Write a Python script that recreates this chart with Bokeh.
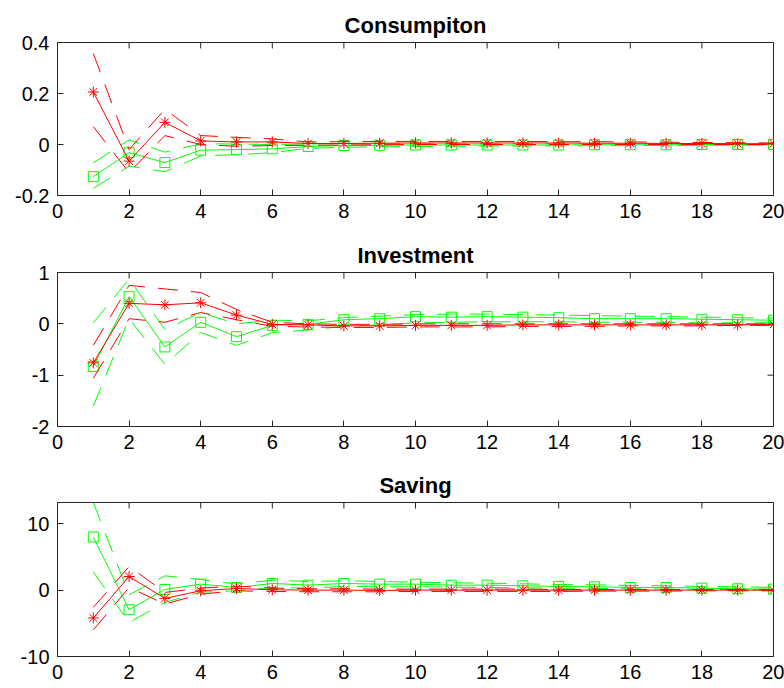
import math

from bokeh.plotting import figure
from bokeh.layouts import column
from bokeh.models import Range1d, LinearAxis, FixedTicker, Title
from bokeh.embed import file_html
from bokeh.resources import INLINE

# forecast horizon
horizon = list(range(1, 21))
x_ticks = list(range(0, 21, 2))

# Consumption responses (red: model A, green: model B) with bands
cons_red = [0.206, -0.065, 0.087, 0.014, 0.010, 0.010, 0.004, 0.004, 0.005, 0.006,
            0.006, 0.006, 0.006, 0.006, 0.005, 0.005, 0.004, 0.004, 0.003, 0.003]
cons_red_hi = [0.357, -0.020, 0.138, 0.035, 0.028, 0.022, 0.010, 0.011, 0.012, 0.012,
               0.012, 0.012, 0.012, 0.011, 0.011, 0.010, 0.009, 0.008, 0.007, 0.006]
cons_red_lo = [0.070, -0.110, 0.035, 0.000, -0.007, -0.004, -0.003, -0.002, -0.001, 0.000,
               0.000, 0.000, 0.000, 0.000, 0.000, 0.000, 0.000, 0.000, 0.000, 0.000]
cons_grn = [-0.126, -0.032, -0.071, -0.022, -0.020, -0.017, -0.008, -0.004, -0.003, -0.002,
            -0.002, -0.002, -0.002, -0.002, -0.001, -0.001, -0.001, 0.000, 0.000, 0.000]
cons_grn_hi = [-0.072, 0.018, -0.030, 0.003, 0.002, 0.000, 0.002, 0.003, 0.003, 0.003,
               0.003, 0.003, 0.003, 0.003, 0.003, 0.002, 0.002, 0.002, 0.002, 0.002]
cons_grn_lo = [-0.172, -0.085, -0.107, -0.045, -0.040, -0.032, -0.015, -0.011, -0.009, -0.008,
               -0.007, -0.006, -0.006, -0.005, -0.005, -0.004, -0.004, -0.003, -0.003, -0.002]

# Investment responses
inv_red = [-0.76, 0.40, 0.37, 0.41, 0.17, -0.01, -0.02, -0.04, -0.04, -0.03,
           -0.03, -0.03, -0.02, -0.02, -0.02, -0.02, -0.02, -0.02, -0.02, -0.01]
inv_red_hi = [-0.42, 0.75, 0.68, 0.61, 0.28, 0.03, 0.00, -0.01, -0.01, 0.00,
              0.00, 0.00, 0.00, 0.00, 0.00, 0.00, 0.00, 0.00, 0.00, 0.00]
inv_red_lo = [-1.06, 0.10, 0.03, 0.22, 0.08, -0.05, -0.06, -0.07, -0.07, -0.06,
              -0.06, -0.06, -0.05, -0.05, -0.05, -0.04, -0.04, -0.04, -0.03, -0.03]
inv_grn = [-0.83, 0.53, -0.45, 0.03, -0.25, -0.03, -0.01, 0.08, 0.10, 0.14,
           0.13, 0.14, 0.13, 0.12, 0.10, 0.10, 0.10, 0.09, 0.08, 0.07]
inv_grn_hi = [0.02, 0.87, -0.11, 0.22, 0.00, 0.07, 0.06, 0.12, 0.15, 0.18,
              0.19, 0.19, 0.18, 0.17, 0.16, 0.15, 0.14, 0.13, 0.12, 0.11]
inv_grn_lo = [-1.60, 0.10, -0.79, -0.17, -0.42, -0.17, -0.12, -0.05, -0.02, 0.02,
              0.03, 0.04, 0.04, 0.04, 0.03, 0.03, 0.03, 0.02, 0.02, 0.02]

# Saving responses
sav_red = [-4.2, 2.05, -1.25, -0.1, 0.25, 0.05, 0.0, 0.0, -0.05, 0.0,
           0.0, 0.0, 0.0, 0.0, 0.0, 0.0, 0.0, 0.0, 0.0, 0.0]
sav_red_hi = [-2.6, 3.55, -0.35, 0.3, 0.6, 0.3, 0.2, 0.2, 0.15, 0.15,
              0.15, 0.15, 0.15, 0.1, 0.1, 0.1, 0.1, 0.1, 0.1, 0.1]
sav_red_lo = [-6.0, 0.4, -2.1, -0.6, -0.1, -0.2, -0.25, -0.25, -0.25, -0.2,
              -0.2, -0.2, -0.2, -0.2, -0.15, -0.15, -0.15, -0.1, -0.1, -0.1]
sav_grn = [8.0, -2.95, 0.1, 0.9, 0.4, 1.0, 0.75, 1.0, 0.9, 0.9,
           0.75, 0.75, 0.65, 0.55, 0.5, 0.4, 0.4, 0.3, 0.2, 0.15]
sav_grn_hi = [13.2, -0.7, 2.15, 1.6, 0.9, 1.5, 1.3, 1.4, 1.3, 1.2,
              1.1, 1.05, 0.95, 0.85, 0.8, 0.7, 0.65, 0.55, 0.5, 0.4]
sav_grn_lo = [2.75, -4.9, -1.85, -0.3, -0.1, 0.4, 0.3, 0.55, 0.5, 0.5,
              0.45, 0.4, 0.35, 0.3, 0.25, 0.2, 0.15, 0.1, 0.05, 0.0]

cons_ticks = [-0.2, 0.0, 0.2, 0.4]
cons_labels = ["-0.2", "0", "0.2", "0.4"]
inv_ticks = [-2, -1, 0, 1]
inv_labels = ["-2", "-1", "0", "1"]
sav_ticks = [-10, 0, 10]
sav_labels = ["-10", "0", "10"]

RED = "#ff0000"
GREEN = "#00ff00"
INK = "#262626"
FONT = "Liberation Sans"
DASH = "20 13"
TICK_LEN = 6


def style_axis(ax, ticks, labels=None):
    ax.ticker = FixedTicker(ticks=ticks)
    if labels is not None:
        ax.major_label_overrides = {t: l for t, l in zip(ticks, labels)}
    ax.major_tick_in = TICK_LEN
    ax.major_tick_out = 0
    ax.minor_tick_line_color = None
    ax.axis_line_color = INK
    ax.major_tick_line_color = INK
    ax.major_label_text_color = "black"
    ax.major_label_text_font = FONT
    ax.major_label_text_font_size = "20px"
    ax.major_label_standoff = 8


def panel(title, y0, y1, yticks, ylabels, red, red_lo, red_hi, grn, grn_lo, grn_hi,
          height, bottom):
    p = figure(width=784, height=height, x_range=Range1d(0, 20), y_range=Range1d(y0, y1),
               output_backend="svg", toolbar_location=None,
               min_border_left=57, min_border_right=11, min_border_top=42,
               min_border_bottom=bottom, x_axis_type=None, y_axis_type=None)
    p.grid.visible = False
    p.outline_line_color = INK
    p.background_fill_color = "white"
    p.border_fill_color = "white"

    xb = LinearAxis()
    style_axis(xb, x_ticks)
    p.add_layout(xb, "below")
    yl = LinearAxis()
    style_axis(yl, yticks, ylabels)
    p.add_layout(yl, "left")
    p.add_layout(Title(text=title, align="center", text_font=FONT, text_font_size="22px",
                       text_font_style="bold", text_color="black", standoff=9), "above")

    # mirrored inward ticks on the top and right edges of the box
    p.ray(x=x_ticks, y=[y1] * len(x_ticks), length=TICK_LEN, length_units="screen",
          angle=-math.pi / 2, line_color=INK, line_width=1)
    p.ray(x=[20] * len(yticks), y=yticks, length=TICK_LEN, length_units="screen",
          angle=math.pi, line_color=INK, line_width=1)

    # green series with its dashed band
    p.line(horizon, grn_hi, line_color=GREEN, line_width=1, line_dash=DASH)
    p.line(horizon, grn_lo, line_color=GREEN, line_width=1, line_dash=DASH)
    p.line(horizon, grn, line_color=GREEN, line_width=1)
    p.scatter(horizon, grn, marker="square", size=10, line_color=GREEN, line_width=1,
              fill_color=None)
    # red series with its dashed band
    p.line(horizon, red_hi, line_color=RED, line_width=1, line_dash=DASH)
    p.line(horizon, red_lo, line_color=RED, line_width=1, line_dash=DASH)
    p.line(horizon, red, line_color=RED, line_width=1)
    p.scatter(horizon, red, marker="asterisk", size=11, line_color=RED, line_width=1)
    return p


p1 = panel("Consumpiton", -0.2, 0.4, cons_ticks, cons_labels,
           cons_red, cons_red_lo, cons_red_hi, cons_grn, cons_grn_lo, cons_grn_hi, 230, 35)
p2 = panel("Investment", -2, 1, inv_ticks, inv_labels,
           inv_red, inv_red_lo, inv_red_hi, inv_grn, inv_grn_lo, inv_grn_hi, 230, 34)
p3 = panel("Saving", -10, 13.2, sav_ticks, sav_labels,
           sav_red, sav_red_lo, sav_red_hi, sav_grn, sav_grn_lo, sav_grn_hi, 228, 32)

layout = column(p1, p2, p3, spacing=0)
open("out.html", "w").write(file_html(layout, INLINE))
